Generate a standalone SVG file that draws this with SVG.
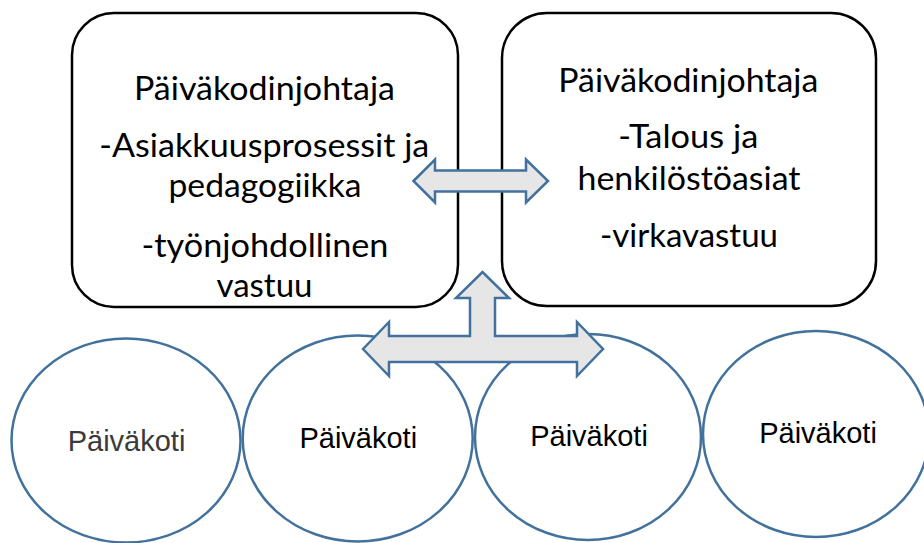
<svg xmlns="http://www.w3.org/2000/svg" width="924" height="543" viewBox="0 0 924 543">
<style>
.box{fill:#fff;stroke:#000;stroke-width:2.5}
.ell{fill:#fff;stroke:#41719c;stroke-width:2.5}
.arr{fill:#e6e6e6;stroke:#41719c;stroke-width:2.5;stroke-linejoin:miter}
.bt{font-family:Lato,"Open Sans",sans-serif;font-size:33px;fill:#000;text-anchor:middle}
.et{font-family:"Liberation Sans",Arial,sans-serif;font-size:29px;fill:#000;text-anchor:middle}
</style>
<rect width="924" height="543" fill="#fff"/>
<g id="ellipse1"><ellipse class="ell" cx="126" cy="440.5" rx="114.5" ry="102"/><text class="et" x="126.5" y="451" style="fill:#3a3a3a">Päiväkoti</text></g>
<g id="ellipse2"><ellipse class="ell" cx="357.7" cy="438.5" rx="115" ry="103"/><text class="et" x="358.3" y="448.3">Päiväkoti</text></g>
<g id="ellipse3"><ellipse class="ell" cx="588" cy="437" rx="113" ry="103"/><text class="et" x="589" y="446">Päiväkoti</text></g>
<g id="ellipse4"><ellipse class="ell" cx="816" cy="434" rx="113" ry="103"/><text class="et" x="818" y="443.3">Päiväkoti</text></g>
<g id="box1"><rect class="box" x="72" y="13" width="386" height="294" rx="42"/>
<text class="bt" x="264.5" y="100" textLength="261" lengthAdjust="spacingAndGlyphs">Päiväkodinjohtaja</text>
<text class="bt" x="264.3" y="157" textLength="330" lengthAdjust="spacingAndGlyphs">-Asiakkuusprosessit ja</text>
<text class="bt" x="265" y="197" textLength="193" lengthAdjust="spacingAndGlyphs">pedagogiikka</text>
<text class="bt" x="265" y="257" textLength="247" lengthAdjust="spacingAndGlyphs">-työnjohdollinen</text>
<text class="bt" x="264.5" y="297" textLength="96" lengthAdjust="spacingAndGlyphs">vastuu</text>
</g>
<g id="box2"><rect class="box" x="502" y="13" width="374" height="293" rx="45"/>
<text class="bt" x="688.3" y="92" textLength="260" lengthAdjust="spacingAndGlyphs">Päiväkodinjohtaja</text>
<text class="bt" x="688.3" y="148" textLength="140" lengthAdjust="spacingAndGlyphs">-Talous ja</text>
<text class="bt" x="689" y="190" textLength="223" lengthAdjust="spacingAndGlyphs">henkilöstöasiat</text>
<text class="bt" x="689" y="247" textLength="178" lengthAdjust="spacingAndGlyphs">-virkavastuu</text>
</g>
<g id="connectors">
<path class="arr" d="M413.5,181 L435,159.5 L435,170.5 L526,170.5 L526,159.5 L548,181 L526,202.5 L526,191.5 L435,191.5 L435,202.5 Z"/>
<path class="arr" d="M363,349 L389,322 L389,336 L470,336 L470,298 L456,298 L482.5,272 L509,298 L495,298 L495,336 L577,336 L577,322 L603,349 L577,376 L577,362 L389,362 L389,376 Z"/>
</g>
</svg>
